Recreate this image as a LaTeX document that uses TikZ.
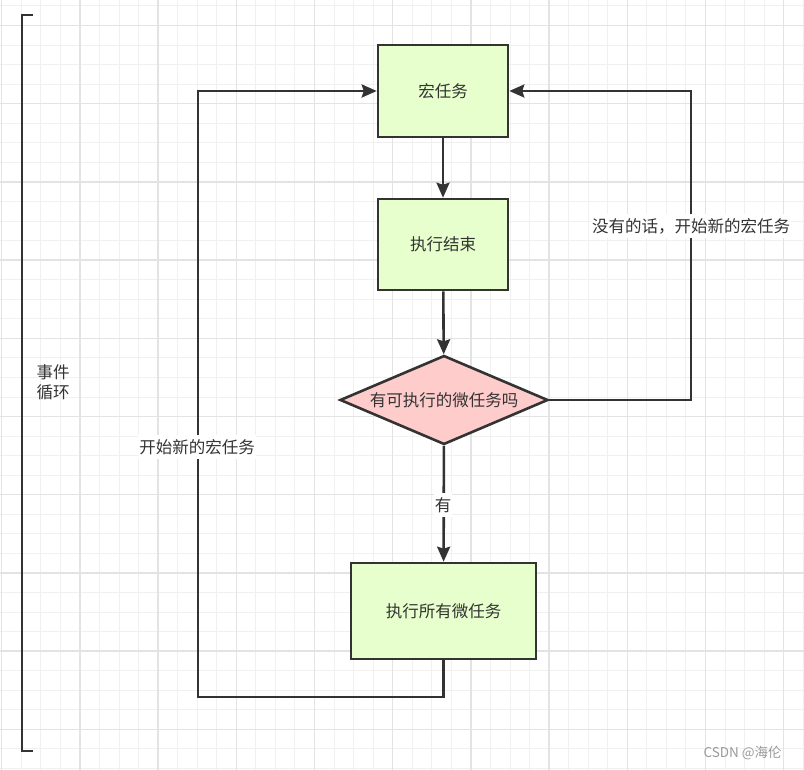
\documentclass[tikz,border=0pt]{standalone}
\usepackage{fontspec}
\setmainfont{Noto Sans CJK SC}
\usepackage{tikz}
\usetikzlibrary{positioning}
\usetikzlibrary{shapes.geometric}
\usetikzlibrary{arrows.meta}
\usepackage{xcolor}
\definecolor{inkgray}{HTML}{333333}
\definecolor{gridminor}{HTML}{F0F0F0}
\definecolor{gridmajor}{HTML}{E3E3E3}
\definecolor{taskgreen}{HTML}{E6FFCC}
\definecolor{askpink}{HTML}{FFCCCC}
\definecolor{markgray}{HTML}{9A9A9A}

\begin{document}
\begin{tikzpicture}[x=1pt, y=-1pt,
  taskbox/.style={draw=inkgray, fill=taskgreen, line width=2.6pt, inner sep=0pt,
    text=inkgray, font=\fontsize{16.5}{20}\selectfont},
  askbox/.style={diamond, aspect=2.34, draw=inkgray, fill=askpink, line width=2.6pt,
    inner sep=0pt, minimum width=208pt, minimum height=89pt,
    text=inkgray, font=\fontsize{16.5}{20}\selectfont},
  flow/.style={draw=inkgray, line width=2.6pt, line join=miter,
    -{Stealth[length=15pt,width=13pt,inset=2pt]}},
  flowtext/.style={fill=white, inner xsep=1pt, inner ysep=4pt, text=inkgray,
    font=\fontsize{16.5}{20}\selectfont}
]
\useasboundingbox (0,0) rectangle (804,770);
\fill[white] (0,0) rectangle (804,770);

% grid
\foreach \i in {0,...,41} {
  \draw[gridminor, line width=1pt] ({1.7+19.55*\i},0) -- ++(0,770);
}
\foreach \i in {0,...,39} {
  \draw[gridminor, line width=1pt] (0,{6+19.55*\i}) -- ++(804,0);
}
\foreach \i in {0,4,...,40} {
  \draw[gridmajor, line width=1.4pt] ({1.7+19.55*\i},0) -- ++(0,770);
}
\foreach \i in {1,5,...,37} {
  \draw[gridmajor, line width=1.4pt] (0,{6+19.55*\i}) -- ++(804,0);
}

% bracket of the loop
\draw[inkgray, line width=2.8pt, line join=miter] (33,15) -- (22,15) -- (22,751) -- (33,751);
\node[align=center, text=inkgray, font=\fontsize{16.5}{20}\selectfont] (loopname) at (53,382) {事件\\循环};

% boxes
\node[taskbox, minimum width=130pt, minimum height=92pt] (macro) at (443,91) {宏任务};
\node[taskbox, minimum width=130pt, minimum height=91pt] (fin) at (443,244.5) {执行结束};
\node[askbox] (ask) at (444,400) {有可执行的微任务吗};
\node[taskbox, minimum width=185pt, minimum height=96pt] (micro) at (443.5,611) {执行所有微任务};

\coordinate (rcol) at (691,91);
\coordinate (lbot) at (198,697);

\draw[flow] (macro) -- (fin);
\draw[flow] (fin) -- (ask);
\draw[flow] (ask) -- (micro);
\draw[flow] (ask) -- (ask -| rcol) -- (rcol) -- (macro);
\draw[flow] (micro) -- (micro |- lbot) -- (lbot) -- (lbot |- macro) -- (macro);

\node[flowtext] (yes) at (443,505) {有};
\node[flowtext] (nomore) at (691,226) {没有的话，开始新的宏任务};
\node[flowtext] (again) at (197,447) {开始新的宏任务};

%\node at (402,760) {};
\node[anchor=west, text=markgray, font=\fontsize{13.5}{16}\selectfont] (mark) at (700,753) {CSDN @海伦};

\end{tikzpicture}
\end{document}
